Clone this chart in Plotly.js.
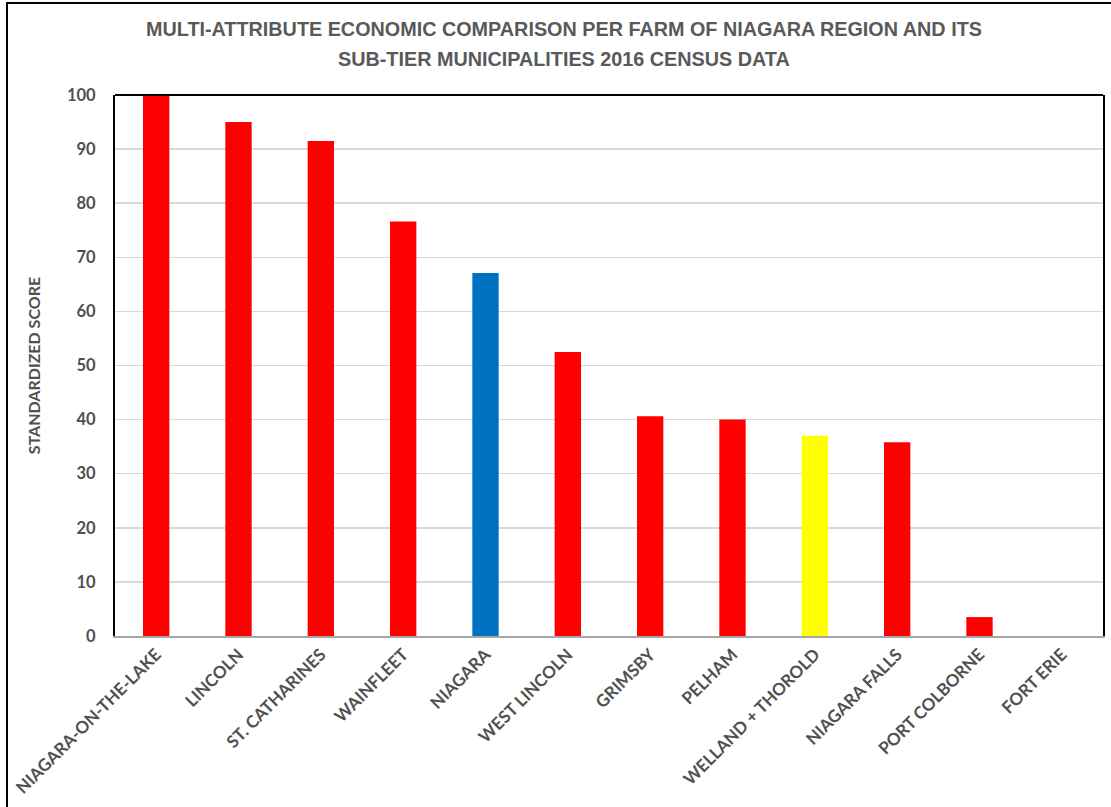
<!DOCTYPE html>
<html>
<head>
<meta charset="utf-8">
<script src="https://cdn.plot.ly/plotly-3.0.1.min.js"></script>
<style>
html,body{margin:0;padding:0;background:#fff;overflow:hidden;}
#chart{width:1111px;height:807px;position:absolute;left:0;top:0;}
#frame{position:absolute;left:6px;top:2px;width:1200px;height:900px;border:2px solid #000;pointer-events:none;box-sizing:border-box;}
</style>
</head>
<body>
<div id="chart"></div>
<div id="frame"></div>
<script>
const categories = ["NIAGARA-ON-THE-LAKE","LINCOLN","ST. CATHARINES","WAINFLEET","NIAGARA","WEST LINCOLN","GRIMSBY","PELHAM","WELLAND + THOROLD","NIAGARA FALLS","PORT COLBORNE","FORT ERIE"];
const scores = [100, 95.0, 91.5, 76.6, 67.1, 52.5, 40.6, 40.0, 37.0, 35.8, 3.5, 0];
const barColors = ["#FF0000","#FF0000","#FF0000","#FF0000","#0070C0","#FF0000","#FF0000","#FF0000","#FFFF00","#FF0000","#FF0000","#FF0000"];
const yTicks = [0,10,20,30,40,50,60,70,80,90,100];
const titleLines = ["MULTI-ATTRIBUTE ECONOMIC COMPARISON PER FARM OF NIAGARA REGION AND ITS", "SUB-TIER MUNICIPALITIES 2016 CENSUS DATA"];
const yTitle = "STANDARDIZED SCORE";

const trace = {
  type: "bar",
  x: categories,
  y: scores,
  marker: {color: barColors, line: {width: 0}},
  hoverinfo: "x+y"
};

const titleFont = {family: "Liberation Sans, Arial, sans-serif", size: 19.8, color: "#595959", weight: "bold"};

const layout = {
  width: 1111,
  height: 807,
  margin: {l: 115, r: 8, t: 95, b: 171},
  paper_bgcolor: "#fff",
  plot_bgcolor: "#fff",
  bargap: 0.68,
  showlegend: false,
  annotations: [
    {text: titleLines[0], xref: "paper", yref: "paper", x: 0.454, y: 1, yshift: 66, xanchor: "center", yanchor: "middle", showarrow: false, font: titleFont},
    {text: titleLines[1], xref: "paper", yref: "paper", x: 0.454, y: 1, yshift: 36, xanchor: "center", yanchor: "middle", showarrow: false, font: titleFont}
  ],
  shapes: [
    {type: "line", xref: "paper", yref: "paper", x0: 0, x1: 1, y0: 1, y1: 1, line: {color: "#000", width: 2}}
  ],
  xaxis: {
    type: "category",
    tickangle: -45,
    tickfont: {family: "Lato, sans-serif", size: 17, color: "#505050", weight: "bold"},
    showgrid: false,
    showline: true,
    linecolor: "#A6A6A6",
    linewidth: 2,
    ticks: "",
    automargin: false
  },
  yaxis: {
    range: [0, 100],
    tickvals: yTicks,
    ticktext: yTicks.map(String),
    tickfont: {family: "Lato, sans-serif", size: 16.5, color: "#505050", weight: "bold"},
    showgrid: true,
    gridcolor: "#D9D9D9",
    gridwidth: 1.5,
    showline: true,
    linecolor: "#000",
    linewidth: 2,
    mirror: true,
    ticks: "",
    ticklabelstandoff: 14,
    zeroline: false,
    title: {text: yTitle, font: {family: "Lato, sans-serif", size: 16, color: "#505050", weight: "bold"}, standoff: 22},
    automargin: false
  }
};

Plotly.newPlot("chart", [trace], layout, {displayModeBar: false, staticPlot: true});
</script>
</body>
</html>
